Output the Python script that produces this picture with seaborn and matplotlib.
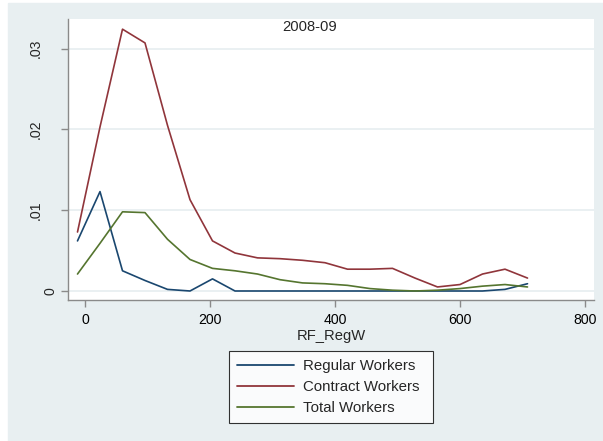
import numpy as np
import pandas as pd
import matplotlib
matplotlib.use("Agg")
import matplotlib.pyplot as plt
import seaborn as sns

# Kernel-style density estimates evaluated on a grid of RF_RegW values
rf_regw = [-12, 24, 60, 96, 132, 168, 204, 240, 276, 312, 348,
           384, 420, 456, 492, 528, 564, 600, 636, 672, 708]
regular = [0.0062, 0.0123, 0.0025, 0.0013, 0.0002, 0.0000, 0.0015,
           0.0000, 0.0000, 0.0000, 0.0000, 0.0000, 0.0000, 0.0000,
           0.0000, 0.0000, 0.0000, 0.0000, 0.0000, 0.0002, 0.0009]
contract = [0.0073, 0.0203, 0.0324, 0.0307, 0.0205, 0.0113, 0.0062,
            0.0047, 0.0041, 0.0040, 0.0038, 0.0035, 0.0027, 0.0027,
            0.0028, 0.0016, 0.0005, 0.0008, 0.0021, 0.0027, 0.0016]
total = [0.0021, 0.0059, 0.0098, 0.0097, 0.0064, 0.0039, 0.0028,
         0.0025, 0.0021, 0.0014, 0.0010, 0.0009, 0.0007, 0.0003,
         0.0001, 0.0000, 0.0001, 0.0003, 0.0006, 0.0008, 0.0005]
series_names = ["Regular Workers", "Contract Workers", "Total Workers"]
x_ticks = [0, 200, 400, 600, 800]
y_ticks = [0, 0.01, 0.02, 0.03]
y_tick_labels = ["0", ".01", ".02", ".03"]

df = pd.concat([
    pd.DataFrame({"RF_RegW": rf_regw, "density": vals, "group": name})
    for name, vals in zip(series_names, [regular, contract, total])
], ignore_index=True)

BG = "#E8EFF1"
sns.set_theme(style="white")
plt.rcParams["font.family"] = ["Liberation Sans", "DejaVu Sans"]

fig = plt.figure(figsize=(6.03, 4.41), dpi=100, facecolor="white")
# outer graph region
fig.patches.append(plt.Rectangle((8 / 603, 0), 1, 1 - 3 / 441,
                                 transform=fig.transFigure, color=BG, zorder=-10))

ax_w = 594 - 68
ax = fig.add_axes([68 / 603, 1 - 300 / 441, ax_w / 603, (300 - 19) / 441])
ax.set_facecolor("white")

palette = {"Regular Workers": "#1a476f",
           "Contract Workers": "#90353b",
           "Total Workers": "#55752f"}
sns.lineplot(data=df, x="RF_RegW", y="density", hue="group",
             hue_order=series_names, palette=palette, linewidth=1.2,
             ax=ax, legend=True)

ax.set_xlim(-27.2, 814.4)
ax.set_ylim(-0.001114, 0.03366)
ax.set_xticks(x_ticks)
ax.set_xticklabels([str(t) for t in x_ticks], fontsize=10.2)
ax.set_yticks(y_ticks)
ax.grid(axis="y", color=BG, linewidth=1.3)
ax.grid(axis="x", visible=False)
ax.set_axisbelow(True)

for side in ["top", "right"]:
    ax.spines[side].set_visible(False)
for side in ["left", "bottom"]:
    ax.spines[side].set_color("#8a8a8a")
    ax.spines[side].set_linewidth(1.0)
ax.tick_params(axis="both", direction="out", length=5, width=1.0,
               color="#8a8a8a", labelcolor="black", left=True, bottom=True)
ax.tick_params(axis="x", pad=4)
ax.tick_params(axis="y", labelleft=False)

# rotated y tick labels; the zero label sits closer to the axis
ytrans = ax.get_yaxis_transform()
for val, txt in zip(y_ticks, y_tick_labels):
    xpx = 50.5 if txt == "0" else 35.5
    ax.text((xpx - 68) / ax_w, val, txt, transform=ytrans, rotation=90,
            ha="center", va="center", fontsize=10.2, clip_on=False)

ax.set_xlabel("RF_RegW", fontsize=10.6, labelpad=2)
ax.set_ylabel("")

fig.text(310 / 603, 1 - 27 / 441, "2008-09", ha="center", va="center",
         fontsize=10.6)

handles, labels = ax.get_legend_handles_labels()
ax.legend_.remove()
leg = fig.legend(handles, labels, loc="upper left",
                 bbox_to_anchor=(229 / 603, 1 - 350.7 / 441, (433 - 229) / 603, 0.0),
                 mode="expand",
                 frameon=True, fancybox=False, fontsize=10.8,
                 handlelength=3.75, handletextpad=0.62, labelspacing=0.46,
                 borderpad=0.55, borderaxespad=0)
leg.get_frame().set_edgecolor("black")
leg.get_frame().set_linewidth(0.8)
leg.get_frame().set_facecolor("white")
for line in leg.get_lines():
    line.set_linewidth(1.3)

fig.savefig("out.png", dpi=100, facecolor=fig.get_facecolor())
